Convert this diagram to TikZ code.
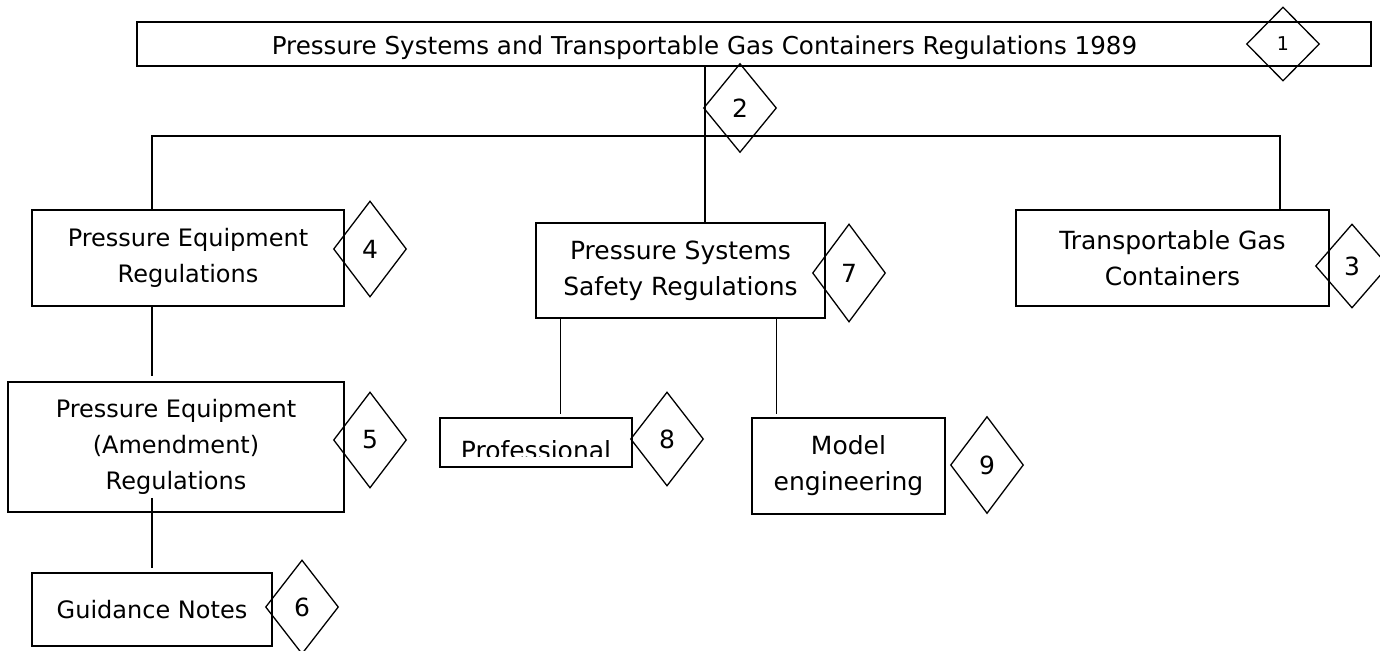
\documentclass[tikz,border=0pt]{standalone}
\usepackage{fontspec}
\setmainfont{DejaVu Sans}
\usetikzlibrary{shapes.geometric,calc}

\tikzset{
  box/.style={draw, line width=1.6pt, align=center, inner sep=0pt, font=\fontsize{24}{36}\selectfont},
  bigbox/.style={box, font=\fontsize{25}{36}\selectfont},
  tag/.style={draw, diamond, line width=1.3pt, inner sep=0pt, minimum width=73pt, font=\fontsize{25}{25}\selectfont},
  link/.style={line width=1.3pt}
}

\begin{document}
\begin{tikzpicture}[x=1pt,y=-1pt]
    \useasboundingbox (0,0) rectangle (1380,650);

    % Top: the 1989 regulations
    \node[draw, line width=1.9pt, minimum width=1234pt, minimum height=44pt] (title) at (754,44) {};
    \node[font=\fontsize{24.6}{24.6}\selectfont, anchor=base] (titletext) at (704.5,55) {Pressure Systems and Transportable Gas Containers Regulations 1989};
    \node[tag, minimum height=74pt, font=\fontsize{19}{19}\selectfont] (t1) at (1283,44) {1};
    \node[tag, minimum height=89pt] (t2) at (740,108) {2};

    % Row 1
    \node[box, minimum width=312pt, minimum height=96pt] (peq) at (188,258) {Pressure Equipment\\Regulations};
    \node[tag, minimum height=96pt] (t4) at (370,249) {4};
    \node[bigbox, minimum width=289pt, minimum height=95pt] (sys) at (680.5,270.5) {Pressure Systems\\Safety Regulations};
    \node[tag, minimum height=98pt] (t7) at (849,273) {7};
    \node[bigbox, minimum width=313pt, minimum height=96pt] (tgc) at (1172.5,258) {Transportable Gas\\Containers};
    \node[tag, minimum height=84pt] (t3) at (1352,266) {3};

    % Row 2
    \node[box, minimum width=336pt, minimum height=130pt] (pea) at (176,447) {Pressure Equipment\\(Amendment)\\Regulations};
    \node[tag, minimum height=96pt] (t5) at (370,440) {5};
    \node[box, minimum width=192pt, minimum height=49pt] (prof) at (536,442.5) {};
    \node[tag, minimum height=94pt] (t8) at (667,439) {8};
    \node[bigbox, minimum width=193pt, minimum height=96pt] (model) at (848.5,466) {Model\\engineering};
    \node[tag, minimum height=97pt] (t9) at (987,465) {9};

    % Row 3
    \node[box, minimum width=240pt, minimum height=73pt] (guide) at (152,609.5) {Guidance Notes};
    \node[tag, minimum height=94pt] (t6) at (302,607) {6};

    % text of box 8 runs out of its box
    \begin{scope}
      \clip (prof.north west) rectangle ($(prof.south east)+(0,-11)$);
      \node[font=\fontsize{25}{25}\selectfont, anchor=base] (proftext) at ($(prof.south)+(0,-8)$) {Professional};
    \end{scope}

    % Connectors
    \coordinate (busL) at (152,136);
    \coordinate (busR) at (1280,136);
    \coordinate (stem) at (705,136);
    \coordinate (profLink) at ($(sys.south)+(-120,0)$);
    \coordinate (modelLink) at ($(sys.south)+(96,0)$);
    \coordinate (guideLink) at ($(pea.south -| busL)+(0,-15)$);

    \draw[link] (title.south -| stem) -- (sys.north -| stem);
    \draw[link] (peq.north -| busL) -- (busL) -- (busR) -- (tgc.north -| busR);
    \draw[link, shorten >=5pt] (peq.south -| busL) -- (pea.north -| busL);
    \draw[link, shorten >=4pt] (guideLink) -- (guide.north -| busL);
    \draw[link, shorten >=3pt] (profLink) -- (profLink |- prof.north);
    \draw[link, shorten >=3pt] (modelLink) -- (modelLink |- model.north);

\end{tikzpicture}
\end{document}
